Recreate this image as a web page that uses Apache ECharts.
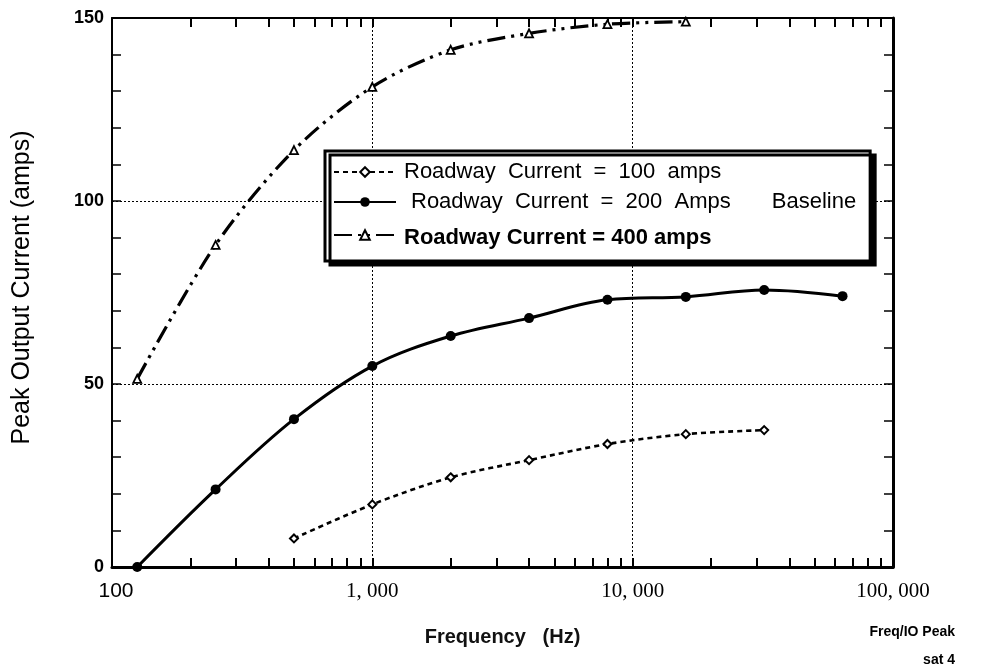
<!DOCTYPE html>
<html>
<head>
<meta charset="utf-8">
<script src="https://cdn.jsdelivr.net/npm/echarts@6/dist/echarts.min.js"></script>
<style>
  html, body { margin: 0; padding: 0; background: #ffffff; }
  #chart { width: 985px; height: 671px; }
</style>
</head>
<body>
<div id="chart"></div>
<script>
// Peak output current vs. frequency for three roadway currents
const seriesNames = [
  'Roadway Current = 100 amps',
  'Roadway Current = 200 Amps',
  'Roadway Current = 400 amps'
];
const baselineNote = 'Baseline';

const freq100 = [500, 1000, 2000, 4000, 8000, 16000, 32000];
const amps100 = [7.8, 17.1, 24.5, 29.2, 33.6, 36.3, 37.4];

const freq200 = [125, 250, 500, 1000, 2000, 4000, 8000, 16000, 32000, 64000];
const amps200 = [0, 21.2, 40.4, 54.9, 63.1, 68.0, 73.0, 73.8, 75.7, 74.0];

const freq400 = [125, 250, 500, 1000, 2000, 4000, 8000, 16000];
const amps400 = [51.4, 88.0, 113.9, 131.2, 141.3, 145.8, 148.3, 149.0];

const xTickLabels = { 100: '100', 1000: '1, 000', 10000: '10, 000', 100000: '100, 000' };
const xTickMarks = [200, 300, 400, 500, 600, 700, 800, 900, 1000,
                    2000, 3000, 4000, 5000, 6000, 7000, 8000, 9000, 10000,
                    20000, 30000, 40000, 50000, 60000, 70000, 80000, 90000];
const yTickMarks = [10, 20, 30, 40, 50, 60, 70, 80, 90, 100, 110, 120, 130, 140];

const xTitle = 'Frequency   (Hz)';
const yTitle = 'Peak Output Current (amps)';
const footNotes = ['Freq/IO Peak', 'sat 4'];

const SANS = '"Liberation Sans", Arial, Helvetica, sans-serif';
const SERIF = '"Liberation Serif", "Times New Roman", serif';

function pairs(xs, ys) {
  return xs.map((x, i) => [x, ys[i]]);
}

const chart = echarts.init(document.getElementById('chart'), null, { renderer: 'canvas' });

// grid 0 carries labels, grid lines and data; grid 1 (same box) carries the minor tick frame
const plotBox = { left: 112, right: 92, top: 18, bottom: 104, containLabel: false };
const logAxis = { type: 'log', logBase: 10, min: 100, max: 100000 };
const valAxis = { type: 'value', min: 0, max: 150 };
const tickOnly = {
  axisLabel: { show: false },
  splitLine: { show: false }
};

const option = {
  animation: false,
  backgroundColor: '#ffffff',
  grid: [Object.assign({}, plotBox), Object.assign({}, plotBox)],
  xAxis: [
    Object.assign({}, logAxis, {
      gridIndex: 0,
      position: 'bottom',
      name: xTitle,
      nameLocation: 'middle',
      nameGap: 60,
      nameTextStyle: { fontFamily: SANS, fontSize: 20, fontWeight: 'bold', color: '#111' },
      axisLine: { show: true, onZero: false, lineStyle: { color: '#000', width: 3 } },
      axisTick: { show: false },
      axisLabel: {
        show: true, margin: 14, color: '#000',
        formatter: v => (v === 100 ? '{s|' + xTickLabels[v] + '}' : '{t|' + (xTickLabels[v] || '') + '}'),
        rich: {
          s: { fontFamily: SANS, fontSize: 21, color: '#000', padding: [0, 0, 0, 8] },
          t: { fontFamily: SERIF, fontSize: 21, color: '#000' }
        }
      },
      splitLine: { show: true, lineStyle: { color: '#000', width: 1, type: [2, 2] } }
    }),
    Object.assign({}, logAxis, tickOnly, {
      gridIndex: 1,
      position: 'bottom',
      axisLine: { show: false, onZero: false },
      axisTick: { show: true, inside: true, length: 9, customValues: xTickMarks,
                  lineStyle: { color: '#000', width: 2 } }
    }),
    Object.assign({}, logAxis, tickOnly, {
      gridIndex: 1,
      position: 'top',
      axisLine: { show: true, onZero: false, lineStyle: { color: '#000', width: 2 } },
      axisTick: { show: true, inside: true, length: 9, customValues: xTickMarks,
                  lineStyle: { color: '#000', width: 2 } }
    })
  ],
  yAxis: [
    Object.assign({}, valAxis, {
      gridIndex: 0,
      position: 'left',
      interval: 50,
      name: yTitle,
      nameLocation: 'middle',
      nameGap: 77,
      nameTextStyle: { fontFamily: SANS, fontSize: 25, color: '#000', padding: [0, 0, 0, 10] },
      axisLine: { show: true, onZero: false, lineStyle: { color: '#000', width: 2 } },
      axisTick: { show: false },
      axisLabel: { show: true, margin: 8, fontFamily: SANS, fontSize: 18, fontWeight: 'bold', color: '#000' },
      splitLine: { show: true, lineStyle: { color: '#000', width: 1, type: [2, 2] } }
    }),
    Object.assign({}, valAxis, tickOnly, {
      gridIndex: 1,
      position: 'left',
      axisLine: { show: false, onZero: false },
      axisTick: { show: true, inside: true, length: 9, customValues: yTickMarks,
                  lineStyle: { color: '#000', width: 1.5 } }
    }),
    Object.assign({}, valAxis, tickOnly, {
      gridIndex: 1,
      position: 'right',
      axisLine: { show: true, onZero: false, lineStyle: { color: '#000', width: 3 } },
      axisTick: { show: true, inside: true, length: 9, customValues: yTickMarks,
                  lineStyle: { color: '#000', width: 1.5 } }
    })
  ],
  legend: {
    left: 325,
    top: 151,
    orient: 'vertical',
    selectedMode: false,
    backgroundColor: '#ffffff',
    borderColor: '#000',
    borderWidth: 3,
    shadowColor: '#000',
    shadowBlur: 0,
    shadowOffsetX: 5,
    shadowOffsetY: 4,
    padding: [10, 14, 12, 8],
    itemWidth: 62,
    itemHeight: 12,
    itemGap: 8,
    data: seriesNames,
    formatter: name => {
      const spaced = name.split(' ').join('  ');
      if (name === seriesNames[0]) return '{a|' + spaced + '}';
      if (name === seriesNames[1]) return '{b|' + spaced + '}{c|' + baselineNote + '}';
      return '{d|' + name + '}';
    },
    textStyle: {
      color: '#000',
      rich: {
        a: { fontFamily: SANS, fontSize: 22, color: '#000', lineHeight: 24, padding: [0, 0, 0, 3] },
        b: { fontFamily: SANS, fontSize: 22, color: '#000', lineHeight: 24, padding: [0, 0, 0, 10] },
        c: { fontFamily: SANS, fontSize: 22, color: '#000', lineHeight: 24, padding: [0, 0, 0, 41] },
        d: { fontFamily: SANS, fontSize: 22, fontWeight: 'bold', color: '#000', lineHeight: 24, padding: [6, 0, 0, 3] }
      }
    }
  },
  series: [
    {
      name: seriesNames[0],
      type: 'line',
      xAxisIndex: 0, yAxisIndex: 0,
      data: pairs(freq100, amps100),
      smooth: 0.3,
      symbol: 'diamond',
      symbolSize: 8,
      itemStyle: { color: '#fff', borderColor: '#000', borderWidth: 2 },
      lineStyle: { color: '#000', width: 2.6, type: [5, 4] },
      z: 3
    },
    {
      name: seriesNames[1],
      type: 'line',
      xAxisIndex: 0, yAxisIndex: 0,
      data: pairs(freq200, amps200),
      smooth: 0.35,
      symbol: 'circle',
      symbolSize: 10,
      itemStyle: { color: '#000', borderColor: '#000', borderWidth: 0 },
      lineStyle: { color: '#000', width: 3, type: 'solid' },
      z: 3
    },
    {
      name: seriesNames[2],
      type: 'line',
      xAxisIndex: 0, yAxisIndex: 0,
      data: pairs(freq400, amps400),
      smooth: 0.3,
      symbol: 'triangle',
      symbolSize: 8,
      itemStyle: { color: '#fff', borderColor: '#000', borderWidth: 1.8 },
      lineStyle: { color: '#000', width: 3.2, type: [18, 6, 3, 6, 3, 6] },
      z: 3
    }
  ],
  graphic: [
    {
      type: 'text', right: 30, top: 625,
      style: { text: footNotes[0], fontFamily: SANS, fontSize: 14, fontWeight: 'bold', fill: '#000', textAlign: 'right' }
    },
    {
      type: 'text', right: 30, top: 653,
      style: { text: footNotes[1], fontFamily: SANS, fontSize: 14, fontWeight: 'bold', fill: '#000', textAlign: 'right' }
    }
  ]
};

chart.setOption(option);
</script>
</body>
</html>
